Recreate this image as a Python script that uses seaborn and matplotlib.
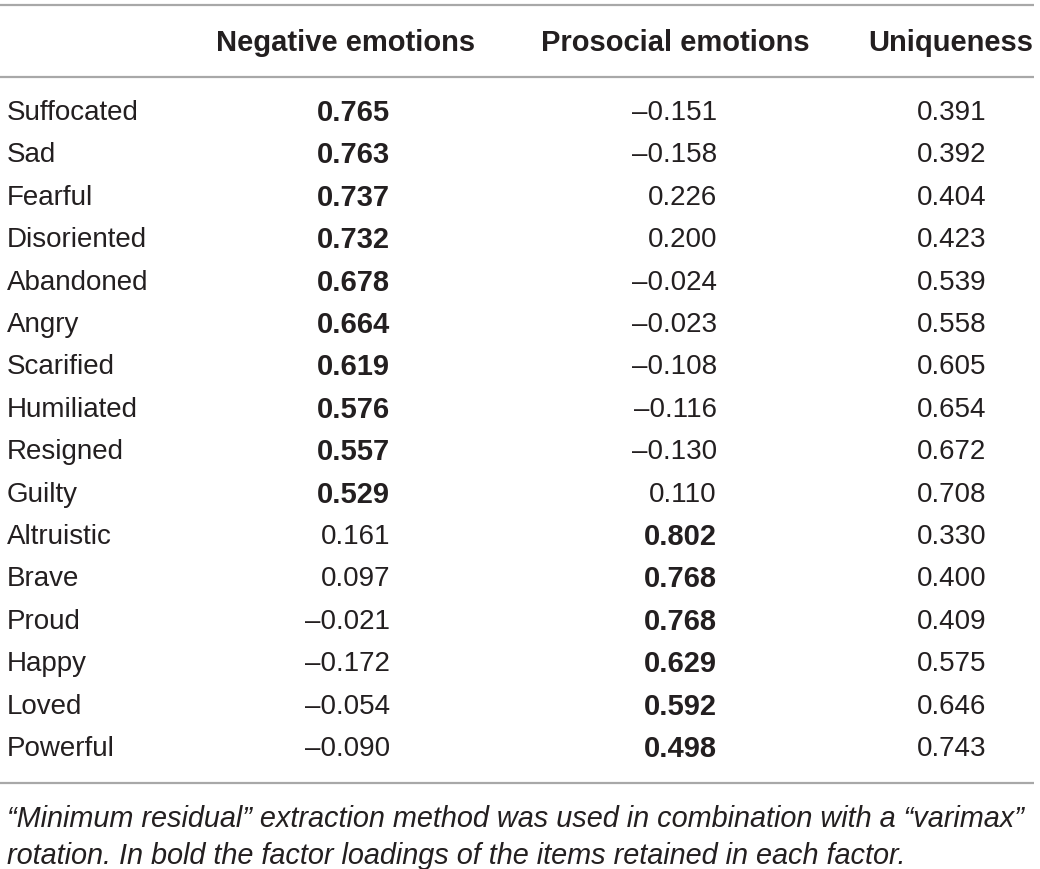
import pandas as pd
import numpy as np
import seaborn as sns
import matplotlib.pyplot as plt

# Datos de la tabla (cargas factoriales)
items = ['Suffocated', 'Sad', 'Fearful', 'Disoriented', 'Abandoned', 'Angry', 'Scarified',
         'Humiliated', 'Resigned', 'Guilty', 'Altruistic', 'Brave', 'Proud', 'Happy',
         'Loved', 'Powerful']
negative = [0.765, 0.763, 0.737, 0.732, 0.678, 0.664, 0.619, 0.576, 0.557, 0.529,
            0.161, 0.097, -0.021, -0.172, -0.054, -0.090]
prosocial = [-0.151, -0.158, 0.226, 0.200, -0.024, -0.023, -0.108, -0.116, -0.130, 0.110,
             0.802, 0.768, 0.768, 0.629, 0.592, 0.498]
uniqueness = [0.391, 0.392, 0.404, 0.423, 0.539, 0.558, 0.605, 0.654, 0.672, 0.708,
              0.330, 0.400, 0.409, 0.575, 0.646, 0.743]
n_factor_neg = 10  # los primeros 10 items van en el factor negativo
headers = ['Negative emotions', 'Prosocial emotions', 'Uniqueness']
footnote = ['\u201cMinimum residual\u201d extraction method was used in combination with a \u201cvarimax\u201d',
            'rotation. In bold the factor loadings of the items retained in each factor.']

df = pd.DataFrame({'Item': items, 'Negative': negative, 'Prosocial': prosocial, 'Uniqueness': uniqueness})
df['bold_neg'] = np.arange(len(df)) < n_factor_neg
df['bold_pro'] = ~df['bold_neg']

sns.set_theme(style='white')
plt.rcParams['font.family'] = ['Liberation Sans', 'DejaVu Sans']

TXT = '#231f20'
LINE = '#a8a8a8'

def fmt(v):
    s = f'{abs(v):.3f}'
    return ('\u2013' + s) if v < 0 else s

fig = plt.figure(figsize=(10.4, 8.69), dpi=100)
ax = fig.add_axes([0, 0, 1, 1])
ax.set_xlim(0, 1040)
ax.set_ylim(869, 0)
ax.axis('off')

# lineas horizontales
ax.hlines([5, 77, 783], 0, 1034, color=LINE, lw=1.6)

# encabezados
head_x = [346, 675, 1033]
head_ha = ['center', 'center', 'right']
for h, x, ha in zip(headers, head_x, head_ha):
    ax.text(x, 43, h, ha=ha, va='center', fontsize=21, fontweight='bold', color=TXT)

row0, step = 113, 42.4
col_x = {'Negative': 390, 'Prosocial': 717, 'Uniqueness': 986}
for i, r in df.iterrows():
    y = row0 + step * i
    ax.text(7, y, r['Item'], ha='left', va='center', fontsize=20, color=TXT)
    for col, bcol in [('Negative', 'bold_neg'), ('Prosocial', 'bold_pro'), ('Uniqueness', None)]:
        bold = bcol is not None and r[bcol]
        ax.text(col_x[col], y, fmt(r[col]), ha='right', va='center',
                fontsize=21 if bold else 20, fontweight='bold' if bold else 'normal', color=TXT)

for j, line in enumerate(footnote):
    ax.text(7, 819 + 37 * j, line, ha='left', va='center', fontsize=20.8, style='italic',
            color=TXT)

fig.savefig('out.png', dpi=100, facecolor='white')
